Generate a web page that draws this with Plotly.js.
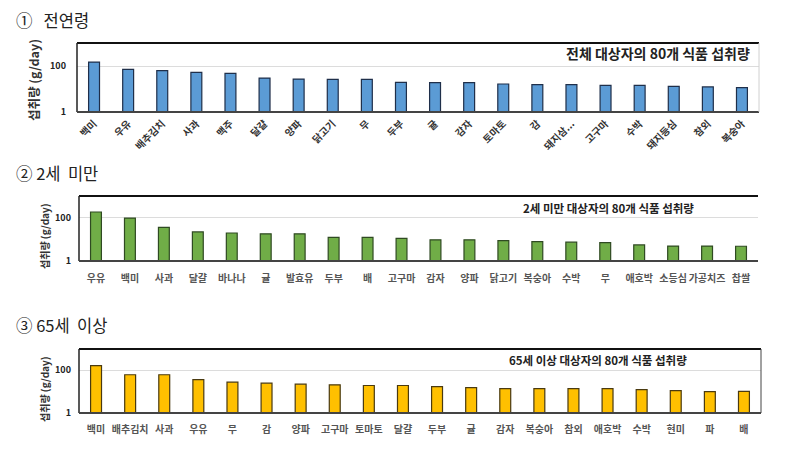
<!DOCTYPE html>
<html><head><meta charset="utf-8">
<script src="https://cdn.plot.ly/plotly-3.0.1.min.js"></script>
<style>html,body{margin:0;padding:0;background:#fff}#c{width:787px;height:455px}</style>
</head><body><div id="c"></div>
<script>
const cats1 = ['백미','우유','배추김치','사과','맥주','달걀','양파','닭고기','무','두부','귤','감자','토마토','감','돼지삼...','고구마','수박','돼지등심','참외','복숭아'];
const vals1 = [148,72,63,53,48,30,27,26,26,19.5,19,19,16.5,15.4,15.4,14.5,14.5,13,12.3,11.4];
const cats2 = ['우유','백미','사과','달걀','바나나','귤','발효유','두부','배','고구마','감자','양파','닭고기','복숭아','수박','무','애호박','소등심','가공치즈','찹쌀'];
const vals2 = [183,96,36,22,19.6,18,18,12.2,12.2,11,9.5,9.5,8.8,7.9,7.4,7.1,5.5,4.9,4.9,4.8];
const cats3 = ['백미','배추김치','사과','우유','무','감','양파','고구마','토마토','달걀','두부','귤','감자','복숭아','참외','애호박','수박','현미','파','배'];
const vals3 = [167,62,62,37,28,25,22.5,21,19.5,19.5,17.4,15.5,13.9,13.9,13.9,13.9,12.5,11.2,10,10.3];
const yTickVals = [1,100];
const yTickText = ['1','100'];
const sectionTitles = ['①&#160;&#160;&#160;전연령','② 2세&#160;&#160;미만','③ 65세&#160;&#160;이상'];
const innerTitles = ['전체 대상자의 80개 식품 섭취량','2세 미만 대상자의 80개 식품 섭취량','65세 이상 대상자의 80개 식품 섭취량'];
const yTitle = '섭취량 (g/day)';

const W=787,H=455;
const px=x=>x/W, py=y=>1-y/H;
const F='"Noto Sans CJK KR", "Noto Sans", sans-serif';

const panels=[
 {cats:cats1,vals:vals1,color:'#5b9bd5',line:'#1f2f4a',x0:77,x1:759,y0:43,y1:112,angle:-45,tfs:10,tcol:'#333',tso:3,ytx:33,yty:80,ytfs:12.5,itx:752,ity:53,ifs:14,ianchor:'right',rcol:'#d0d0d0',yso:10},
 {cats:cats2,vals:vals2,color:'#70ad47',line:'#2f4a22',x0:79,x1:758,y0:196,y1:261,angle:0,tfs:10,tcol:'#555',tso:10,ytx:44,yty:236,ytfs:10,itx:608,ity:208,ifs:11.5,ianchor:'center',rcol:null,yso:7},
 {cats:cats3,vals:vals3,color:'#ffc000',line:'#4a3a10',x0:79,x1:761,y0:349,y1:413,angle:0,tfs:10,tcol:'#555',tso:9,ytx:44,yty:389,ytfs:10,itx:598,ity:360,ifs:11.5,ianchor:'center',rcol:'#444',yso:7}
];
const secY=[20,173,325];

const data=[],layout={width:W,height:H,margin:{l:0,r:0,t:0,b:0},paper_bgcolor:'#fff',plot_bgcolor:'#fff',showlegend:false,bargap:0.68,font:{family:F},annotations:[],shapes:[]};
panels.forEach((p,i)=>{
  const n=i===0?'':(i+1);
  data.push({type:'bar',x:p.cats,y:p.vals,xaxis:'x'+n,yaxis:'y'+n,marker:{color:p.color,line:{color:p.line,width:1.2}}});
  layout['xaxis'+n]={domain:[px(p.x0),px(p.x1)],anchor:'y'+n,type:'category',tickangle:p.angle,tickfont:{size:p.tfs,color:p.tcol,family:F,weight:'bold'},ticklabelstandoff:p.tso,showline:false,ticks:'',showgrid:false,fixedrange:true,automargin:false};
  layout['yaxis'+n]={domain:[py(p.y1),py(p.y0)],anchor:'x'+n,type:'log',range:[0,3],tickvals:yTickVals,ticktext:yTickText,tickfont:{size:9,color:'#222',family:F,weight:'bold'},ticklabelstandoff:p.yso,showgrid:true,gridcolor:'#dcdcdc',gridwidth:1,zeroline:false,showline:false,ticks:'',automargin:false,fixedrange:true};
  layout.shapes.push({type:'line',xref:'paper',yref:'paper',x0:px(p.x0),x1:px(p.x1),y0:py(p.y0),y1:py(p.y0),line:{color:'#111',width:2}});
  layout.shapes.push({type:'line',xref:'paper',yref:'paper',x0:px(p.x0),x1:px(p.x0),y0:py(p.y0),y1:py(p.y1),line:{color:'#222',width:1.5}});
  layout.shapes.push({type:'line',xref:'paper',yref:'paper',x0:px(p.x0),x1:px(p.x1),y0:py(p.y1),y1:py(p.y1),line:{color:'#444',width:2}});
  if(p.rcol) layout.shapes.push({type:'line',xref:'paper',yref:'paper',x0:px(p.x1),x1:px(p.x1),y0:py(p.y0),y1:py(p.y1),line:{color:p.rcol,width:1}});
  layout.annotations.push({text:sectionTitles[i],xref:'paper',yref:'paper',x:px(14),y:py(secY[i]),xanchor:'left',yanchor:'middle',showarrow:false,font:{size:16.5,color:'#222',family:F}});
  layout.annotations.push({text:innerTitles[i],xref:'paper',yref:'paper',x:px(p.itx),y:py(p.ity),xanchor:p.ianchor,yanchor:'middle',showarrow:false,font:{size:p.ifs,color:'#222',family:F,weight:'bold'}});
  layout.annotations.push({text:yTitle,xref:'paper',yref:'paper',x:px(p.ytx),y:py(p.yty),xanchor:'center',yanchor:'middle',textangle:-90,showarrow:false,font:{size:p.ytfs,color:'#333',family:F,weight:'bold'}});
});
Plotly.newPlot('c',data,layout,{staticPlot:true});
</script></body></html>
